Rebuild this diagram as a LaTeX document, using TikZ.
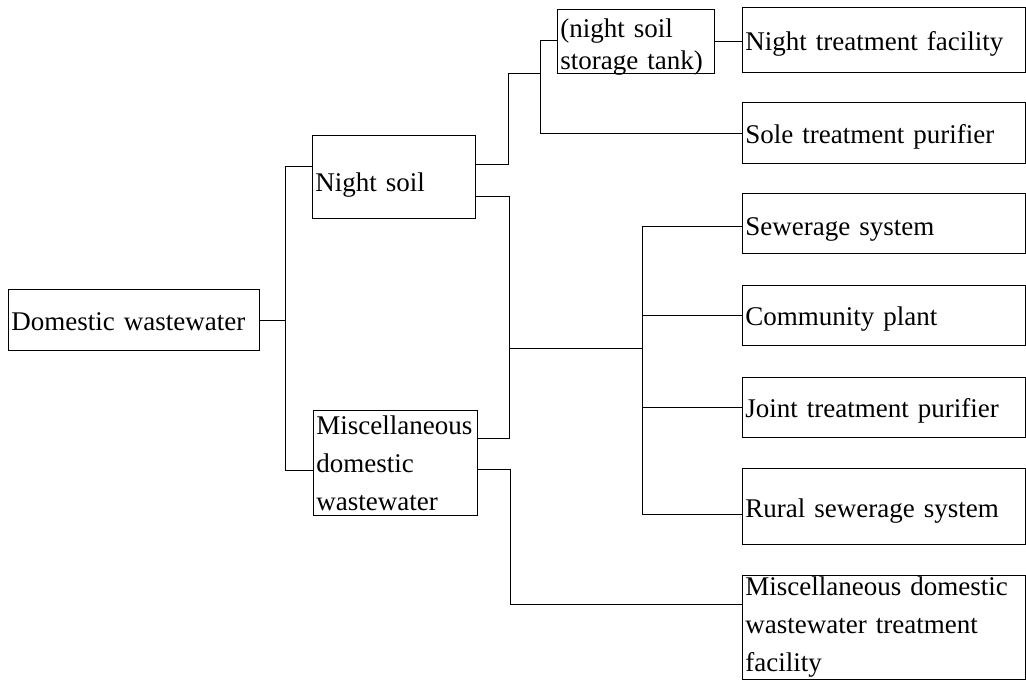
\documentclass[tikz,border=0pt]{standalone}
\usepackage{fontspec}
\setmainfont{Liberation Serif}[WordSpace=2.3]
\newcommand\lowr[2]{\raisebox{-#1pt}[\height][\depth]{#2}}
\begin{document}
\begin{tikzpicture}[x=1pt,y=-1pt,
  box/.style={draw=black, line width=0.8pt, anchor=north west, inner xsep=3pt, inner ysep=0pt,
    align=left, font=\fontsize{27}{38}\selectfont},
  conn/.style={draw=black, line width=0.8pt}]
\useasboundingbox (0,0) rectangle (1026,680);
% boxes
\node[box, text width=245pt, minimum height=61pt] (dw) at (8,289) {\lowr{2}{Domestic wastewater}};
\node[box, text width=157pt, minimum height=83pt] (ns) at (312,135) {\lowr{8}{Night soil}};
\node[box, text width=158pt, minimum height=105pt] (mi) at (313,410) {Miscellaneous\\domestic\\wastewater};
\node[box, text width=151pt, minimum height=64pt, font=\fontsize{27}{32}\selectfont] (st) at (557,9) {\lowr{6}{\parbox[b]{151pt}{(night soil\\storage tank)}}};
\node[box, text width=277pt, minimum height=65pt] (nt) at (742,7) {\lowr{4}{Night treatment facility}};
\node[box, text width=277pt, minimum height=61pt] (so) at (742,102) {\lowr{4}{Sole treatment purifier}};
\node[box, text width=277pt, minimum height=60pt] (sw) at (742,193) {\lowr{6}{Sewerage system}};
\node[box, text width=277pt, minimum height=60pt] (cp) at (742,285) {\lowr{4}{Community plant}};
\node[box, text width=277pt, minimum height=60pt] (jt) at (742,377) {\lowr{3}{Joint treatment purifier}};
\node[box, text width=277pt, minimum height=76pt] (ru) at (742,468) {\lowr{5}{Rural sewerage system}};
\node[box, text width=277pt, minimum height=104pt] (mt) at (742,575) {Miscellaneous domestic\\wastewater treatment\\facility};
% junctions
\coordinate (a1) at (285,166);
\coordinate (a2) at (285,470);
\coordinate (b1) at (508,164);
\coordinate (b2) at (508,73);
\coordinate (c1) at (540,40);
\coordinate (c2) at (540,133);
\coordinate (d1) at (509,196);
\coordinate (d2) at (509,438);
\coordinate (dm) at (509,348);
\coordinate (e0) at (642,348);
\coordinate (e1) at (642,226);
\coordinate (e4) at (642,514);
\coordinate (f1) at (510,469);
\coordinate (f2) at (510,604);
% connectors
\draw[conn] (dw.east) -- (dw.east -| a1);
\draw[conn] (a1 -| ns.west) -- (a1) -- (a2) -- (a2 -| mi.west);
\draw[conn] (b1 -| ns.east) -- (b1) -- (b2) -- (b2 -| c1);
\draw[conn] (c1 -| st.west) -- (c1) -- (c2) -- (c2 -| so.west);
\draw[conn] (st.east) -- (st.east -| nt.west);
\draw[conn] (d1 -| ns.east) -- (d1) -- (d2) -- (d2 -| mi.east);
\draw[conn] (dm) -- (e0);
\draw[conn] (e1 -| sw.west) -- (e1) -- (e4) -- (e4 -| ru.west);
\draw[conn] (cp.west) -- (cp.west -| e0);
\draw[conn] (jt.west) -- (jt.west -| e0);
\draw[conn] (f1 -| mi.east) -- (f1) -- (f2) -- (f2 -| mt.west);
\end{tikzpicture}
\end{document}
